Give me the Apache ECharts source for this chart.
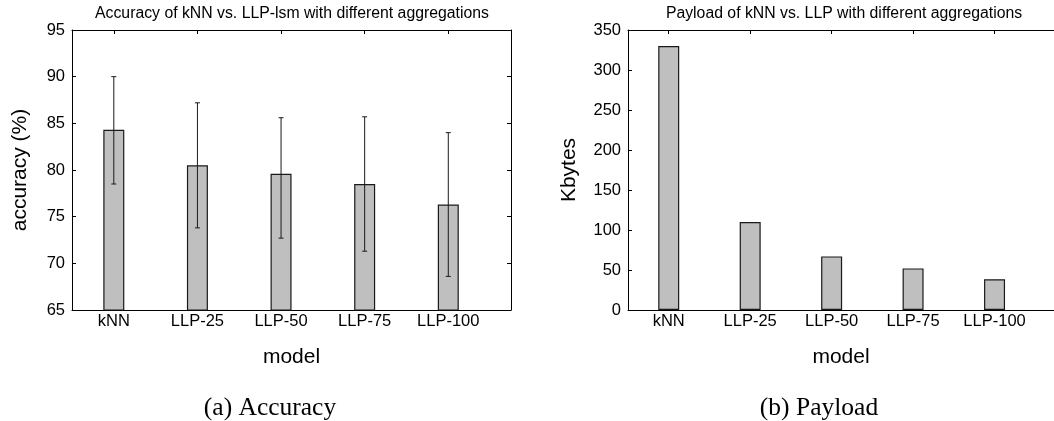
<!DOCTYPE html>
<html>
<head>
<meta charset="utf-8">
<script src="https://cdn.jsdelivr.net/npm/echarts@6/dist/echarts.min.js"></script>
<style>
html,body{margin:0;padding:0;background:#fff;}
#c{width:1054px;height:421px;}
</style>
</head>
<body>
<div id="c"></div>
<script>
const categories = ['kNN', 'LLP-25', 'LLP-50', 'LLP-75', 'LLP-100'];
const accuracy = [84.3, 80.5, 79.6, 78.5, 76.3];
const accLow = [78.5, 73.8, 72.7, 71.3, 68.6];
const accHigh = [90.0, 87.2, 85.6, 85.7, 84.0];
const payload = [330, 110, 67, 52, 38.5];
const accRange = [65, 95, 5];
const payloadRange = [0, 350, 50];
const titleA = 'Accuracy of kNN vs. LLP-lsm with different aggregations';
const titleB = 'Payload of kNN vs. LLP with different aggregations';
const captionA = '(a) Accuracy';
const captionB = '(b) Payload';
const yNameA = 'accuracy (%)';
const yNameB = 'Kbytes';
const xName = 'model';

const SANS = '"Liberation Sans", Arial, Helvetica, sans-serif';
const SERIF = '"Liberation Serif", "Times New Roman", serif';
const catIdx = categories.map((_, i) => i);

function xAxes(grid, max) {
  return [
    {
      type: 'value', gridIndex: grid, position: 'bottom', min: -0.5, max: max,
      name: xName, nameLocation: 'middle', nameGap: 37,
      nameTextStyle: { fontFamily: SANS, fontSize: 21, color: '#000' },
      axisLine: { show: true, onZero: false, lineStyle: { color: '#000', width: 1 } },
      axisTick: { show: false },
      axisLabel: { customValues: catIdx, formatter: v => categories[Math.round(v)],
        fontFamily: SANS, fontSize: 16.5, color: '#000', margin: 3 },
      splitLine: { show: false }
    },
    {
      type: 'value', gridIndex: grid, position: 'top', min: -0.5, max: max,
      axisLine: { show: true, onZero: false, lineStyle: { color: '#000', width: 1 } },
      axisTick: { show: true, inside: true, length: 4, customValues: catIdx, lineStyle: { color: '#000' } },
      axisLabel: { show: false },
      splitLine: { show: false }
    }
  ];
}

function yAxis(grid, range, name, gap, pos, showName) {
  return {
    type: 'value', gridIndex: grid, position: pos,
    min: range[0], max: range[1], interval: range[2],
    name: showName ? name : '', nameLocation: 'middle', nameGap: gap,
    nameTextStyle: { fontFamily: SANS, fontSize: 21, color: '#000' },
    axisLine: { show: true, onZero: false, lineStyle: { color: '#000', width: 1 } },
    axisTick: { show: true, inside: true, length: 4, lineStyle: { color: '#000' } },
    axisLabel: { show: showName, fontFamily: SANS, fontSize: 16.5, color: '#000', margin: 7 },
    splitLine: { show: false }
  };
}

function errRender(params, api) {
  const x = api.value(0);
  const lo = api.coord([x, api.value(1)]);
  const hi = api.coord([x, api.value(2)]);
  const w = 2.5;
  const st = { stroke: '#1a1a1a', lineWidth: 1 };
  return {
    type: 'group',
    children: [
      { type: 'line', shape: { x1: lo[0], y1: lo[1], x2: hi[0], y2: hi[1] }, style: st },
      { type: 'line', shape: { x1: lo[0] - w, y1: lo[1], x2: lo[0] + w, y2: lo[1] }, style: st },
      { type: 'line', shape: { x1: hi[0] - w, y1: hi[1], x2: hi[0] + w, y2: hi[1] }, style: st }
    ]
  };
}

const barStyle = { color: '#bfbfbf', borderColor: '#1a1a1a', borderWidth: 1.2 };

const chart = echarts.init(document.getElementById('c'), null, { renderer: 'canvas' });
chart.setOption({
  animation: false,
  backgroundColor: '#fff',
  grid: [
    { left: 72, top: 30, width: 439, height: 280 },
    { left: 628, top: 30, width: 431, height: 280 }
  ],
  xAxis: [...xAxes(0, 4.75), ...xAxes(1, 4.73)],
  yAxis: [
    yAxis(0, accRange, yNameA, 41, 'left', true),
    yAxis(0, accRange, '', 0, 'right', false),
    yAxis(1, payloadRange, yNameB, 48, 'left', true)
  ],
  series: [
    { type: 'bar', xAxisIndex: 0, yAxisIndex: 0, barWidth: 21,
      data: accuracy.map((v, i) => [i, v]), itemStyle: barStyle },
    { type: 'custom', xAxisIndex: 0, yAxisIndex: 0, z: 5,
      data: accLow.map((v, i) => [i, v, accHigh[i]]), renderItem: errRender },
    { type: 'bar', xAxisIndex: 2, yAxisIndex: 2, barWidth: 21,
      data: payload.map((v, i) => [i, v]), itemStyle: barStyle }
  ],
  graphic: [
    { type: 'text', x: 292, y: 14, style: { text: titleA, font: '15.8px ' + SANS, fill: '#000', textAlign: 'center', textVerticalAlign: 'middle' } },
    { type: 'text', x: 844, y: 14, style: { text: titleB, font: '15.8px ' + SANS, fill: '#000', textAlign: 'center', textVerticalAlign: 'middle' } },
    { type: 'text', x: 270, y: 408, style: { text: captionA, font: '25.5px ' + SERIF, fill: '#000', textAlign: 'center', textVerticalAlign: 'middle' } },
    { type: 'text', x: 819, y: 408, style: { text: captionB, font: '25.5px ' + SERIF, fill: '#000', textAlign: 'center', textVerticalAlign: 'middle' } }
  ]
});
</script>
</body>
</html>
